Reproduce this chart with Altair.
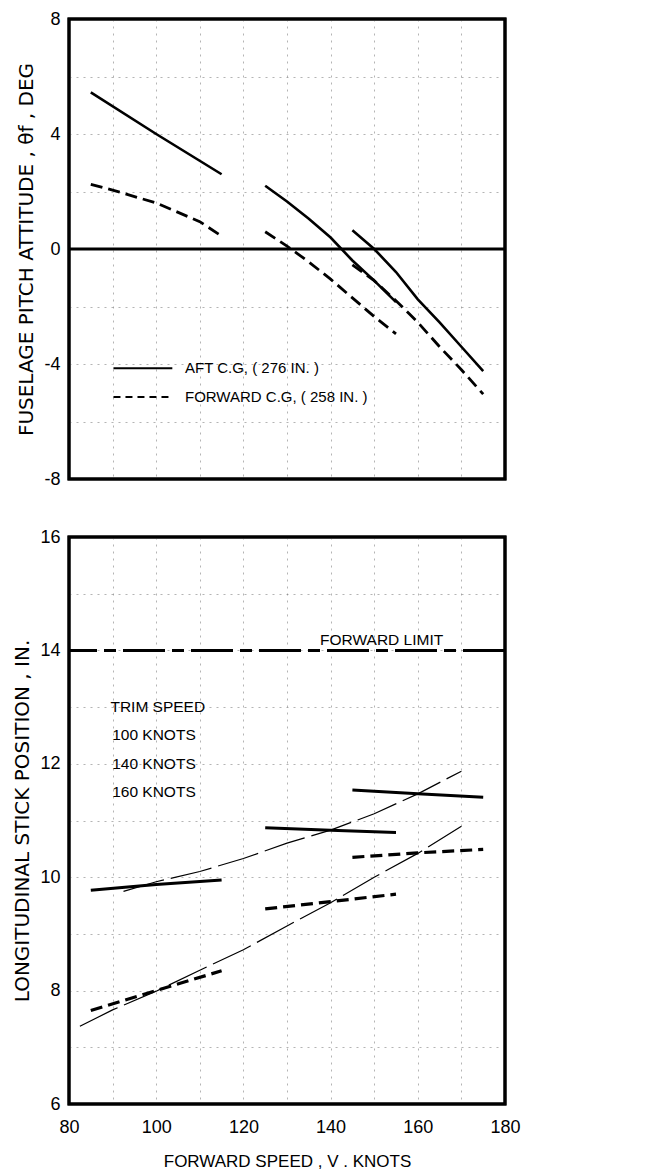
import altair as alt
import pandas as pd

# ---------------- data ----------------
CG_LABELS = ["AFT C.G, ( 276 IN. )", "FORWARD C.G, ( 258 IN. )"]

# top panel: fuselage pitch attitude (deg) vs forward speed (knots)
SPEED_100 = [85, 100, 115]
PITCH_AFT_100 = [5.45, 4.0, 2.6]
SPEED_FWD_100 = [85, 90, 100, 110, 115]
PITCH_FWD_100 = [2.25, 2.05, 1.6, 0.95, 0.45]
SPEED_140 = [125, 130, 135, 140, 145, 150, 155]
PITCH_AFT_140 = [2.2, 1.65, 1.05, 0.4, -0.4, -1.1, -1.85]
PITCH_FWD_140 = [0.6, 0.1, -0.45, -1.05, -1.7, -2.35, -2.95]
SPEED_160 = [145, 150, 155, 160, 165, 170, 175]
PITCH_AFT_160 = [0.65, 0.0, -0.8, -1.75, -2.55, -3.4, -4.25]
PITCH_FWD_160 = [-0.55, -1.1, -1.8, -2.55, -3.4, -4.2, -5.05]

# legend key placement (data units of the top panel)
LEGEND_KEY_X = [90.2, 103.7]
LEGEND_TEXT_X = 106.6
LEGEND_Y = [-4.15, -5.15]

# bottom panel: longitudinal stick position (in.) vs forward speed (knots)
TRIM_SPEED_AFT = [92.5, 100, 110, 120, 130, 140, 150, 160, 170]
STICK_TRIM_AFT = [9.75, 9.92, 10.1, 10.33, 10.6, 10.83, 11.12, 11.47, 11.87]
TRIM_SPEED_FWD = [82.5, 90, 100, 110, 120, 130, 140, 150, 160, 170]
STICK_TRIM_FWD = [7.37, 7.66, 7.99, 8.36, 8.72, 9.14, 9.55, 10.0, 10.42, 10.9]
SEG_SPEED_100 = [85, 100, 115]
SEG_SPEED_140 = [125, 140, 155]
SEG_SPEED_160 = [145, 160, 175]
STICK_AFT_100 = [9.77, 9.87, 9.95]
STICK_AFT_140 = [10.87, 10.83, 10.79]
STICK_AFT_160 = [11.54, 11.47, 11.41]
STICK_FWD_100 = [7.65, 8.0, 8.35]
STICK_FWD_140 = [9.44, 9.57, 9.7]
STICK_FWD_160 = [10.35, 10.43, 10.49]
FORWARD_LIMIT = [14]
ZERO_LINE = [0]

LIMIT_LABEL = ["FORWARD LIMIT"]
LIMIT_LABEL_POS = ([151.7], [14.1])
TRIM_LABELS = ["TRIM SPEED", "100 KNOTS", "140 KNOTS", "160 KNOTS"]
TRIM_LABEL_X = [89.5, 89.9, 89.9, 89.9]
TRIM_LABEL_Y = [13.0, 12.5, 12.0, 11.5]

X_TICKS = list(range(80, 181, 10))
TOP_Y_TICKS = list(range(-8, 9, 2))
BOT_Y_TICKS = list(range(6, 17, 1))

# ---------------- tables ----------------
def rows(seg, cg, xs, ys):
    return [dict(seg=seg, cg=cg, speed=x, value=y) for x, y in zip(xs, ys)]

top_df = pd.DataFrame(
    rows("a100", CG_LABELS[0], SPEED_100, PITCH_AFT_100)
    + rows("a140", CG_LABELS[0], SPEED_140, PITCH_AFT_140)
    + rows("a160", CG_LABELS[0], SPEED_160, PITCH_AFT_160)
    + rows("f100", CG_LABELS[1], SPEED_FWD_100, PITCH_FWD_100)
    + rows("f140", CG_LABELS[1], SPEED_140, PITCH_FWD_140)
    + rows("f160", CG_LABELS[1], SPEED_160, PITCH_FWD_160)
)
zero_df = pd.DataFrame({"value": ZERO_LINE})
legend_df = pd.DataFrame({
    "x1": [LEGEND_KEY_X[0]] * 2,
    "x2": [LEGEND_KEY_X[1]] * 2,
    "tx": [LEGEND_TEXT_X] * 2,
    "value": LEGEND_Y,
    "label": CG_LABELS,
})

trim_df = pd.DataFrame(
    rows("ta", "aft", TRIM_SPEED_AFT, STICK_TRIM_AFT)
    + rows("tf", "fwd", TRIM_SPEED_FWD, STICK_TRIM_FWD)
)
aft_seg_df = pd.DataFrame(
    rows("a100", "aft", SEG_SPEED_100, STICK_AFT_100)
    + rows("a140", "aft", SEG_SPEED_140, STICK_AFT_140)
    + rows("a160", "aft", SEG_SPEED_160, STICK_AFT_160)
)
fwd_seg_df = pd.DataFrame(
    rows("f100", "fwd", SEG_SPEED_100, STICK_FWD_100)
    + rows("f140", "fwd", SEG_SPEED_140, STICK_FWD_140)
    + rows("f160", "fwd", SEG_SPEED_160, STICK_FWD_160)
)
limit_df = pd.DataFrame({"value": FORWARD_LIMIT})
limit_text_df = pd.DataFrame({"speed": LIMIT_LABEL_POS[0], "value": LIMIT_LABEL_POS[1], "label": LIMIT_LABEL})
trim_text_df = pd.DataFrame({"speed": TRIM_LABEL_X, "value": TRIM_LABEL_Y, "label": TRIM_LABELS})

# ---------------- styling ----------------
FONT = "Liberation Sans"
TITLE_FONT = "DejaVu Sans"
W = 436
H_TOP = 460
H_BOT = 567

x_scale = alt.Scale(domain=[80, 180], nice=False, zero=False)
top_y_scale = alt.Scale(domain=[-8, 8], nice=False, zero=False)
bot_y_scale = alt.Scale(domain=[6, 16], nice=False, zero=False)

top_x_axis = alt.Axis(values=X_TICKS, labels=False, title=None)
top_y_axis = alt.Axis(
    values=TOP_Y_TICKS,
    labelExpr="datum.value % 4 == 0 ? toString(datum.value) : ''",
    title="FUSELAGE PITCH ATTITUDE , θf , DEG",
)
bot_x_axis = alt.Axis(
    values=X_TICKS,
    labelExpr="datum.value % 20 == 0 ? toString(datum.value) : ''",
    labelFlush=False,
    title="FORWARD SPEED , V . KNOTS",
)
bot_y_axis = alt.Axis(
    values=BOT_Y_TICKS,
    labelExpr="datum.value % 2 == 0 ? toString(datum.value) : ''",
    title="LONGITUDINAL STICK POSITION , IN.",
)


def frame(h):
    return alt.Chart(zero_df).mark_rect(
        filled=False, stroke="black", strokeWidth=3
    ).encode(x=alt.value(0), x2=alt.value(W), y=alt.value(0), y2=alt.value(h))


# ---------------- top panel ----------------
top_solid = alt.Chart(top_df).transform_filter(
    alt.datum.cg == CG_LABELS[0]
).mark_line(color="black", strokeWidth=2.6, strokeCap="butt").encode(
    x=alt.X("speed:Q", scale=x_scale, axis=top_x_axis),
    y=alt.Y("value:Q", scale=top_y_scale, axis=top_y_axis),
    detail="seg:N",
)
top_dashed = alt.Chart(top_df).transform_filter(
    alt.datum.cg == CG_LABELS[1]
).mark_line(color="black", strokeWidth=2.8, strokeCap="butt", strokeDash=[12, 6]).encode(
    x=alt.X("speed:Q", scale=x_scale),
    y=alt.Y("value:Q", scale=top_y_scale),
    detail="seg:N",
)
zero_rule = alt.Chart(zero_df).mark_rule(color="black", strokeWidth=3).encode(
    y=alt.Y("value:Q", scale=top_y_scale)
)
legend_keys = alt.Chart(legend_df).mark_rule(color="black", strokeWidth=2).encode(
    x=alt.X("x1:Q", scale=x_scale),
    x2="x2:Q",
    y=alt.Y("value:Q", scale=top_y_scale),
    strokeDash=alt.StrokeDash(
        "label:N", scale=alt.Scale(domain=CG_LABELS, range=[[1, 0], [7, 5]]), legend=None
    ),
)
legend_text = alt.Chart(legend_df).mark_text(
    font=FONT, fontSize=15, color="black", align="left", baseline="middle"
).encode(
    x=alt.X("tx:Q", scale=x_scale),
    y=alt.Y("value:Q", scale=top_y_scale),
    text="label:N",
)
top = alt.layer(
    top_solid, top_dashed, zero_rule, legend_keys, legend_text, frame(H_TOP)
).properties(width=W, height=H_TOP)

# ---------------- bottom panel ----------------
limit_rule = alt.Chart(limit_df).mark_rule(
    color="black", strokeWidth=3, strokeDash=[42, 7, 12, 7]
).encode(y=alt.Y("value:Q", scale=bot_y_scale, axis=bot_y_axis))

trim_lines = alt.Chart(trim_df).mark_line(
    color="black", strokeWidth=1.2, strokeDash=[42, 7]
).encode(
    x=alt.X("speed:Q", scale=x_scale, axis=bot_x_axis),
    y=alt.Y("value:Q", scale=bot_y_scale),
    detail="seg:N",
)
aft_lines = alt.Chart(aft_seg_df).mark_line(color="black", strokeWidth=3, strokeCap="butt").encode(
    x=alt.X("speed:Q", scale=x_scale),
    y=alt.Y("value:Q", scale=bot_y_scale),
    detail="seg:N",
)
fwd_lines = alt.Chart(fwd_seg_df).mark_line(
    color="black", strokeWidth=3.2, strokeCap="butt", strokeDash=[12, 6]
).encode(
    x=alt.X("speed:Q", scale=x_scale),
    y=alt.Y("value:Q", scale=bot_y_scale),
    detail="seg:N",
)
limit_text = alt.Chart(limit_text_df).mark_text(
    font=FONT, fontSize=15.5, color="black", align="center", baseline="alphabetic"
).encode(
    x=alt.X("speed:Q", scale=x_scale),
    y=alt.Y("value:Q", scale=bot_y_scale),
    text="label:N",
)
trim_text = alt.Chart(trim_text_df).mark_text(
    font=FONT, fontSize=15.5, color="black", align="left", baseline="middle"
).encode(
    x=alt.X("speed:Q", scale=x_scale),
    y=alt.Y("value:Q", scale=bot_y_scale),
    text="label:N",
)
bottom = alt.layer(
    limit_rule, trim_lines, aft_lines, fwd_lines, limit_text, trim_text, frame(H_BOT)
).properties(width=W, height=H_BOT)

chart = (
    alt.vconcat(top, bottom, spacing=36)
    .resolve_scale(x="independent", y="independent")
    .properties(padding={"left": 3, "top": 0, "right": 5, "bottom": 0})
    .configure_view(stroke="black", strokeWidth=3)
    .configure_axis(
        labelFont=FONT,
        labelFontSize=18,
        labelColor="black",
        labelPadding=9,
        ticks=False,
        domain=False,
        grid=True,
        gridColor="#777777",
        gridDash=[2, 5],
        gridOpacity=0.55,
        gridWidth=1,
        titleFont=TITLE_FONT,
        titleFontSize=20,
        titleFontWeight="normal",
        titleColor="black",
    )
    .configure_axisY(titlePadding=7)
    .configure_axisX(titleFont=FONT, titleFontSize=17, titlePadding=17, labelPadding=14)
)

chart.save("out.html", embed_options={"renderer": "svg", "actions": False})
